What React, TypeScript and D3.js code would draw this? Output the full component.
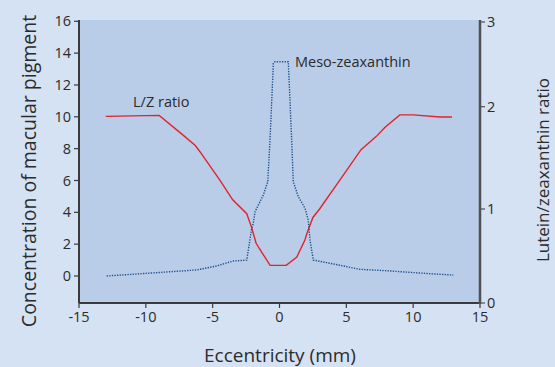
import React, { useEffect, useRef } from 'react';
import * as d3 from 'd3';

// Eccentricity (mm) and L/Z ratio (right axis)
const ratioX = [-13, -9, -7.1, -6.3, -5.95, -4.45, -3.5, -2.45, -2.1, -1.75, -1.35, -0.7, 0.5, 1.3, 1.9, 2.05, 2.5, 3.0, 4.5, 6.1, 7.25, 7.9, 9.0, 10, 12, 12.9];
const ratioY = [1.905, 1.915, 1.71, 1.62, 1.56, 1.28, 1.09, 0.95, 0.81, 0.635, 0.545, 0.4, 0.4, 0.49, 0.67, 0.74, 0.91, 1.0, 1.28, 1.58, 1.71, 1.8, 1.92, 1.92, 1.9, 1.9];

// Eccentricity (mm) and meso-zeaxanthin concentration (left axis)
const mesoX = [-12.93, -6.19, -4.7, -3.46, -2.45, -2.08, -1.96, -1.83, -1.21, -0.88, -0.71, -0.46, -0.34, 0.66, 0.91, 1.03, 1.41, 1.91, 2.15, 2.28, 2.53, 3.53, 6.02, 8.02, 11.5, 13.0];
const mesoY = [0, 0.38, 0.63, 0.94, 1.0, 3.0, 3.31, 4.04, 5.09, 5.92, 8.54, 13.36, 13.46, 13.46, 8.54, 5.92, 4.98, 4.25, 3.52, 2.26, 1.0, 0.84, 0.42, 0.33, 0.13, 0.06];

const xTicks = [-15, -10, -5, 0, 5, 10, 15];
const leftTicks = [0, 2, 4, 6, 8, 10, 12, 14, 16];
const rightTicks = [0, 1, 2, 3];

const App = () => {
  const ref = useRef<SVGSVGElement>(null);

  useEffect(() => {
    const svg = d3.select(ref.current);
    svg.selectAll('*').remove();

    const width = 555;
    const height = 367;
    const left = 79, right = 480, top = 20, bottom = 303;
    const font = '"Open Sans", "DejaVu Sans", sans-serif';

    svg.append('rect').attr('width', width).attr('height', height).attr('fill', '#d5e2f3');
    svg.append('rect')
      .attr('x', left).attr('y', top)
      .attr('width', right - left).attr('height', bottom - top)
      .attr('fill', '#b9cde8');

    const x = d3.scaleLinear().domain([-15, 15]).range([left, right]);
    const y = d3.scaleLinear().domain([0, 16]).range([276, 21.3]);
    // right axis in the source is not evenly spaced
    const y2 = d3.scaleLinear().domain([0, 1, 2, 3]).range([303, 209, 106.7, 22]);

    // red L/Z ratio line
    const ratioLine = d3.line<number>()
      .x((d, i) => x(ratioX[i]))
      .y(d => y2(d));
    svg.append('path')
      .attr('d', ratioLine(ratioY))
      .attr('fill', 'none')
      .attr('stroke', '#e3222b')
      .attr('stroke-width', 1.4);

    // dotted meso-zeaxanthin line
    const mesoLine = d3.line<number>()
      .x((d, i) => x(mesoX[i]))
      .y(d => y(d));
    svg.append('path')
      .attr('d', mesoLine(mesoY))
      .attr('fill', 'none')
      .attr('stroke', '#1d4f8c')
      .attr('stroke-width', 1.4)
      .attr('stroke-dasharray', '1.3 1.3');

    const axisColor = '#3a3a3a';
    const textColor = '#2b2b2b';

    // left axis
    svg.append('line')
      .attr('x1', left).attr('x2', left).attr('y1', top).attr('y2', bottom)
      .attr('stroke', axisColor).attr('stroke-width', 2);
    leftTicks.forEach(t => {
      svg.append('line')
        .attr('x1', left - 5).attr('x2', left).attr('y1', y(t)).attr('y2', y(t))
        .attr('stroke', axisColor).attr('stroke-width', 1.2);
      svg.append('text')
        .attr('x', left - 8).attr('y', y(t)).attr('dy', '0.35em')
        .attr('text-anchor', 'end')
        .attr('font-family', font).attr('font-size', 14.5).attr('fill', textColor)
        .text(t);
    });

    // bottom axis
    svg.append('line')
      .attr('x1', left).attr('x2', right).attr('y1', bottom).attr('y2', bottom)
      .attr('stroke', axisColor).attr('stroke-width', 2);
    xTicks.forEach(t => {
      svg.append('line')
        .attr('x1', x(t)).attr('x2', x(t)).attr('y1', bottom).attr('y2', bottom + 5)
        .attr('stroke', axisColor).attr('stroke-width', 1.2);
      svg.append('text')
        .attr('x', x(t)).attr('y', 322)
        .attr('text-anchor', 'middle')
        .attr('font-family', font).attr('font-size', 14.5).attr('fill', textColor)
        .text(t);
    });

    // right axis
    svg.append('line')
      .attr('x1', right).attr('x2', right).attr('y1', top).attr('y2', bottom + 1)
      .attr('stroke', '#505050').attr('stroke-width', 2.5);
    rightTicks.forEach(t => {
      svg.append('line')
        .attr('x1', right).attr('x2', right + 5).attr('y1', y2(t)).attr('y2', y2(t))
        .attr('stroke', '#505050').attr('stroke-width', 1.2);
      svg.append('text')
        .attr('x', right + 7).attr('y', y2(t)).attr('dy', '0.35em')
        .attr('font-family', font).attr('font-size', 14.5).attr('fill', textColor)
        .text(t);
    });

    // axis titles
    svg.append('text')
      .attr('transform', `translate(29,171) rotate(-90)`)
      .attr('text-anchor', 'middle')
      .attr('dy', '0.35em')
      .attr('font-family', font).attr('font-size', 19.5).attr('fill', textColor)
      .text('Concentration of macular pigment');
    svg.append('text')
      .attr('transform', `translate(549,170) rotate(-90)`)
      .attr('text-anchor', 'middle')
      .attr('font-family', font).attr('font-size', 17).attr('fill', textColor)
      .text('Lutein/zeaxanthin ratio');
    svg.append('text')
      .attr('x', 280).attr('y', 362)
      .attr('text-anchor', 'middle')
      .attr('font-family', font).attr('font-size', 19).attr('fill', textColor)
      .text('Eccentricity (mm)');

    // annotations
    svg.append('text')
      .attr('x', 133).attr('y', 107)
      .attr('font-family', font).attr('font-size', 14.5).attr('fill', textColor)
      .text('L/Z ratio');
    svg.append('text')
      .attr('x', 295).attr('y', 67)
      .attr('font-family', font).attr('font-size', 14.5).attr('fill', textColor)
      .text('Meso-zeaxanthin');

    return () => {
      svg.selectAll('*').remove();
    };
  }, []);

  return (
    <svg
      ref={ref}
      width={555}
      height={367}
      style={{ position: 'absolute', left: 0, top: 0, display: 'block' }}
    />
  );
};

export default App;
